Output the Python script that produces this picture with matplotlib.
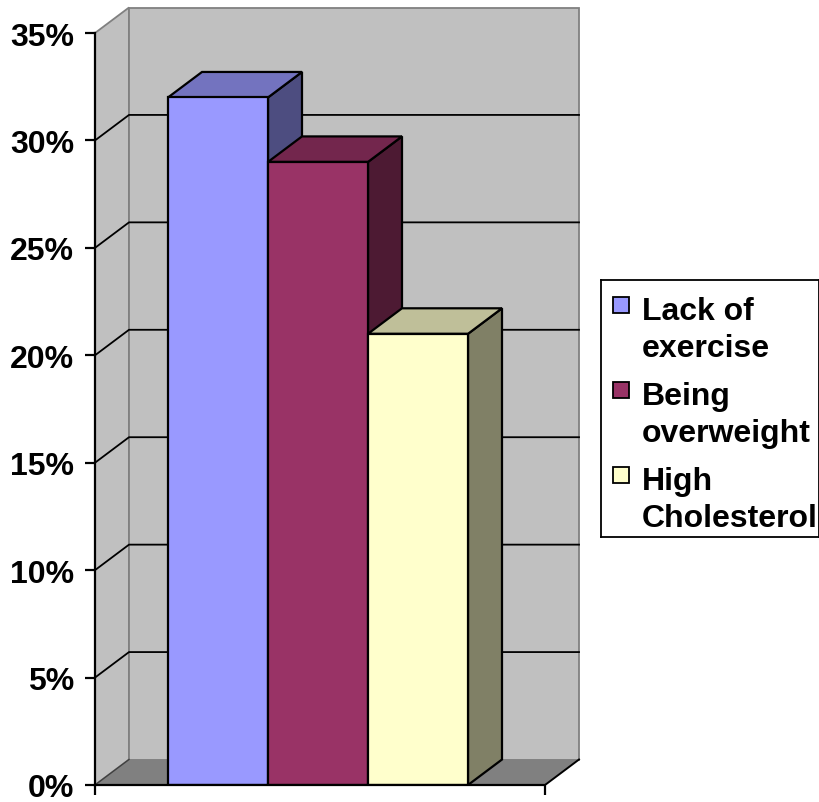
import numpy as np
import matplotlib
matplotlib.use("Agg")
import matplotlib.pyplot as plt
from matplotlib.patches import Polygon, Rectangle

plt.rcParams['font.family'] = ['Liberation Sans', 'DejaVu Sans']

# data
labels = ['Lack of\nexercise', 'Being\noverweight', 'High\nCholesterol']
values = [32, 29, 21]  # percent
front_colors = ['#9999FF', '#993366', '#FFFFCC']
top_colors = ['#7373BF', '#73264D', '#BFBF99']
side_colors = ['#4D4D80', '#4D1A33', '#808066']
yticks = [0, 5, 10, 15, 20, 25, 30, 35]

W, H = 820, 803
fig = plt.figure(figsize=(W / 100, H / 100), dpi=100)

# pixel geometry of the plot box
px_per_x = 100.0
px_per_pct = 752.0 / 35.0
left_px, bottom_px, right_px, top_px = 95, 786, 582, 4
ax = fig.add_axes([left_px / W, (H - bottom_px) / H,
                   (right_px - left_px) / W, (bottom_px - top_px) / H])
ax.set_xlim(0, (right_px - left_px) / px_per_x)
ax.set_ylim(0, (bottom_px - top_px) / px_per_pct)

# depth offset of the 3d box
dx = 34 / px_per_x
dy = 25.5 / px_per_pct
floor_w = 4.5
ymax = 35

wall_grey = '#C0C0C0'
edge_grey = '#808080'

# side wall, back wall and floor
ax.add_patch(Polygon([(0, 0), (dx, dy), (dx, ymax + dy), (0, ymax)],
                     closed=True, facecolor=wall_grey, edgecolor=edge_grey,
                     lw=1.3, zorder=0))
ax.add_patch(Polygon([(dx, dy), (floor_w + dx, dy), (floor_w + dx, ymax + dy),
                      (dx, ymax + dy)],
                     closed=True, facecolor=wall_grey, edgecolor=edge_grey,
                     lw=1.3, zorder=0))
ax.add_patch(Polygon([(0, 0), (floor_w, 0), (floor_w + dx, dy), (dx, dy)],
                     closed=True, facecolor='#808080', edgecolor='none',
                     zorder=0.5))
ax.plot([floor_w, floor_w + dx], [0, dy], color='black', lw=1.4, zorder=0.6)
ax.plot([0, dx], [0, dy], color='#404040', lw=1.0, zorder=0.6)

# gridlines on the walls
for v in yticks[1:-1]:
    ax.plot([0, dx, floor_w + dx], [v, v + dy, v + dy],
            color='black', lw=1.3, zorder=0.7)

# 3d columns
bar_w = 1.0
centers = floor_w / 2 - 0.02 + np.arange(len(values)) - 1
for i, v in enumerate(values):
    x0 = centers[i] - bar_w / 2
    x1 = x0 + bar_w
    z = 2 + i
    ax.add_patch(Polygon([(x1, 0), (x1 + dx, dy), (x1 + dx, v + dy), (x1, v)],
                         closed=True, facecolor=side_colors[i],
                         edgecolor='black', lw=1.6, zorder=z))
    ax.add_patch(Polygon([(x0, v), (x1, v), (x1 + dx, v + dy), (x0 + dx, v + dy)],
                         closed=True, facecolor=top_colors[i],
                         edgecolor='black', lw=1.6, zorder=z))
    ax.add_patch(Rectangle((x0, 0), bar_w, v, facecolor=front_colors[i],
                           edgecolor='black', lw=1.6, zorder=z + 0.1))

# axes
for s in ['top', 'right']:
    ax.spines[s].set_visible(False)
ax.spines['left'].set_bounds(0, ymax)
ax.spines['bottom'].set_bounds(0, floor_w)
for s in ['left', 'bottom']:
    ax.spines[s].set_linewidth(1.6)
    ax.spines[s].set_zorder(10)
ax.set_yticks(yticks)
ax.set_yticklabels([f'{t}%' for t in yticks], fontsize=23, fontweight='bold')
ax.tick_params(axis='y', direction='out', length=7, width=1.6, pad=8)
ax.set_xticks([0, floor_w])
ax.set_xticklabels([])
ax.tick_params(axis='x', direction='out', length=7, width=1.6)

# legend box
leg_l, leg_t, leg_r, leg_b = 601, 281, 819, 538
lax = fig.add_axes([leg_l / W, (H - leg_b) / H, (leg_r - leg_l) / W,
                    (leg_b - leg_t) / H])
lax.set_xlim(leg_l, leg_r)
lax.set_ylim(leg_b, leg_t)
lax.set_xticks([])
lax.set_yticks([])
for s in lax.spines.values():
    s.set_linewidth(1.3)
    s.set_color('black')

first_baselines = [320, 405, 490]
line_gap = 37
for i, lab in enumerate(labels):
    base = first_baselines[i]
    lax.add_patch(Rectangle((613, base - 22), 16, 16,
                            facecolor=front_colors[i], edgecolor='black', lw=1.3))
    for j, line in enumerate(lab.split('\n')):
        lax.text(642, base + j * line_gap, line, fontsize=23,
                 fontweight='bold', va='baseline', ha='left')

fig.savefig('out.png', dpi=100)
